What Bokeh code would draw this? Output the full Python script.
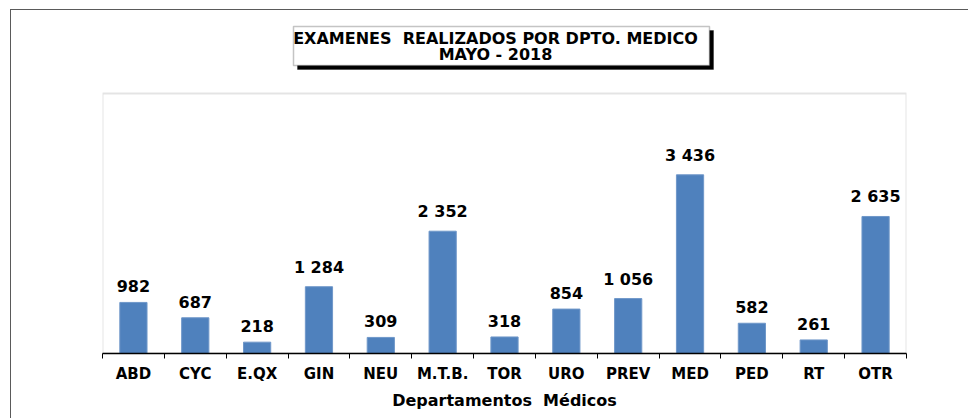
from bokeh.plotting import figure
from bokeh.models import (ColumnDataSource, LabelSet, Label, BoxAnnotation, FixedTicker, Range1d)
from bokeh.core.properties import value
from bokeh.embed import file_html
from bokeh.resources import INLINE

categories = ["ABD", "CYC", "E.QX", "GIN", "NEU", "M.T.B.", "TOR", "URO", "PREV", "MED", "PED", "RT", "OTR"]
values = [982, 687, 218, 1284, 309, 2352, 318, 854, 1056, 3436, 582, 261, 2635]
title_line1 = "EXAMENES\u00a0 REALIZADOS POR DPTO. MEDICO"
title_line2 = "MAYO - 2018"
x_title = "Departamentos\u00a0 Médicos"

FONT = "DejaVu Sans"
Y_MAX_AXIS = 5000

# page layout (pixels)
CANVAS_X0, CANVAS_Y0 = 11, 10
W, H = 958, 409
PLOT_L, PLOT_R, PLOT_T, PLOT_B = 102, 906, 93, 353
frame_h = PLOT_B - CANVAS_Y0
y_top = frame_h * Y_MAX_AXIS / (PLOT_B - PLOT_T)

xs = [i + 0.5 for i in range(len(categories))]
labels = [f"{v:,}".replace(",", " ") for v in values]
src = ColumnDataSource(dict(x=xs, top=values, lab=labels))

p = figure(width=W, height=H, output_backend="svg", toolbar_location=None,
           x_range=Range1d(0, len(categories)), y_range=Range1d(0, y_top),
           min_border_left=PLOT_L - CANVAS_X0, min_border_right=CANVAS_X0 + W - PLOT_R,
           min_border_top=0, min_border_bottom=CANVAS_Y0 + H - PLOT_B)
p.margin = (9, 0, 0, 10)
p.styles = {"border-left": "1px solid #5a5a5a", "border-top": "1px solid #5a5a5a"}
p.background_fill_color = "white"
p.border_fill_color = "white"
p.outline_line_color = None
p.grid.visible = False
p.yaxis.visible = False

# plot-area border
p.add_layout(BoxAnnotation(left=0, right=len(categories), bottom=0, top=Y_MAX_AXIS,
                           fill_alpha=0, line_color="#a6a6a6", line_width=2, level="underlay"))

p.vbar(x="x", top="top", width=0.44, source=src, fill_color="#4F81BD", line_color="#6f97c9", line_width=1)

ls = LabelSet(x="x", y="top", text="lab", source=src, y_offset=10, text_align="center",
              text_baseline="bottom", text_font=value(FONT), text_font_style="bold",
              text_font_size="16px", text_color="black")
p.add_layout(ls)

ax = p.xaxis[0]
ax.ticker = FixedTicker(ticks=xs, minor_ticks=list(range(len(categories) + 1)))
ax.major_label_overrides = {x: c for x, c in zip(xs, categories)}
ax.major_tick_out = 0
ax.major_tick_in = 0
ax.minor_tick_out = 5
ax.minor_tick_in = 0
ax.minor_tick_line_color = "black"
ax.axis_line_color = "black"
ax.axis_line_width = 1.5
ax.major_label_text_font = FONT
ax.major_label_text_font_style = "bold"
ax.major_label_text_font_size = "15px"
ax.major_label_text_color = "black"
ax.major_label_standoff = 6
ax.axis_label = x_title
ax.axis_label_text_font = FONT
ax.axis_label_text_font_style = "bold"
ax.axis_label_text_font_size = "16px"
ax.axis_label_text_color = "black"
ax.axis_label_standoff = 5

def sbox(left, right, top, bottom, **kw):
    return BoxAnnotation(left=left, right=right, top=top, bottom=bottom,
                         left_units="screen", right_units="screen",
                         top_units="screen", bottom_units="screen", **kw)

# title box (screen units relative to frame: x from left edge, y upward from bottom edge)
bx0, bx1, by0, by1 = 293 - PLOT_L, 709 - PLOT_L, PLOT_B - 26, PLOT_B - 65
p.add_layout(sbox(bx0 + 4, bx1 + 4, by0 - 4, by1 - 4, fill_color="black", fill_alpha=1, line_color="black"))
p.add_layout(sbox(bx0, bx1, by0, by1, fill_color="white", fill_alpha=1, line_color="#3a3a3a", line_width=1.5))
for txt, yy in [(title_line1, PLOT_B - 38), (title_line2, PLOT_B - 54)]:
    p.add_layout(Label(x=(bx0 + bx1) / 2 - 6, y=yy, x_units="screen", y_units="screen", text=txt,
                       text_align="center", text_baseline="middle", text_font=FONT,
                       text_font_style="bold", text_font_size="16px", text_color="black"))

open("out.html", "w").write(file_html(p, INLINE))
